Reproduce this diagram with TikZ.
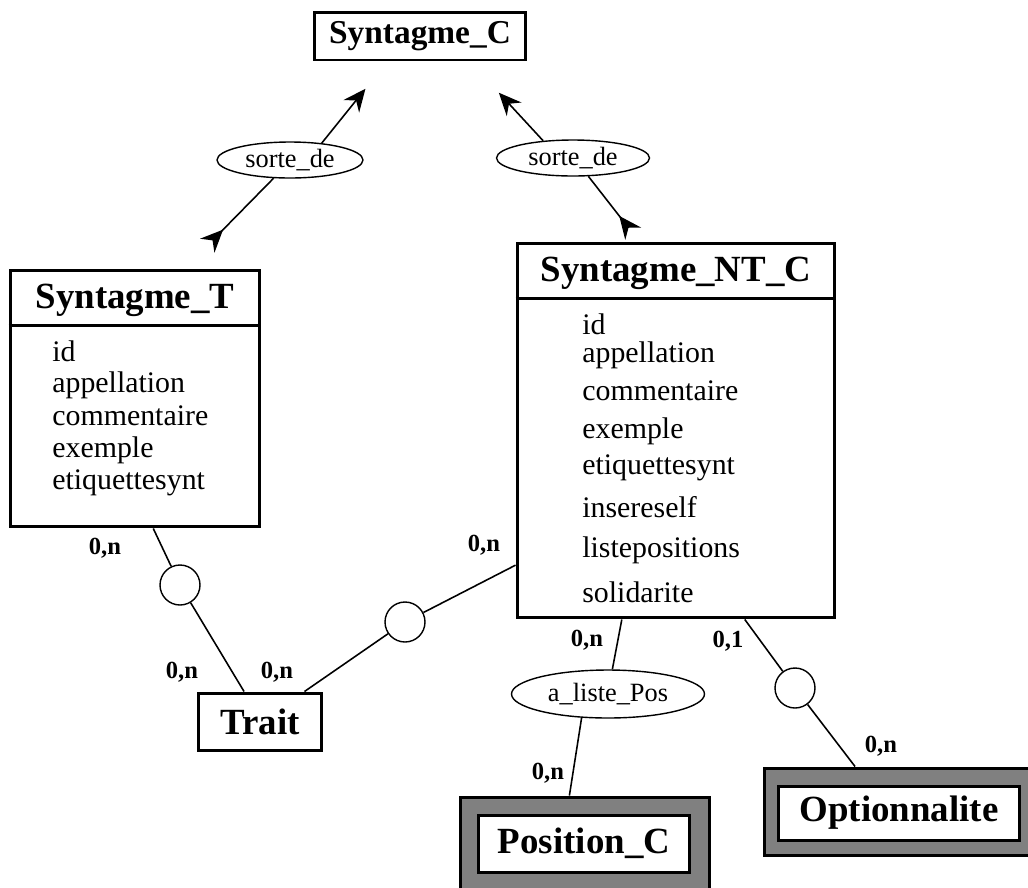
\documentclass[tikz,border=0pt]{standalone}
\usepackage{fontspec}
\setmainfont{Liberation Serif}
\usetikzlibrary{arrows.meta,shapes.geometric}

\begin{document}
\begin{tikzpicture}[
  x=0.02cm, y=-0.02cm,
  entity/.style={draw, line width=1.7pt, fill=white, inner sep=0pt, font=\bfseries\fontsize{21}{24}\selectfont},
  classbox/.style={draw, line width=1.7pt, inner sep=0pt},
  classname/.style={inner sep=0pt, font=\bfseries\fontsize{21}{24}\selectfont},
  attr/.style={anchor=west, inner sep=0pt, text height=12pt, text depth=4pt, font=\fontsize{17}{20}\selectfont},
  assoc/.style={draw, ellipse, line width=0.8pt, inner sep=0pt, font=\fontsize{15}{17}\selectfont},
  ring/.style={draw, circle, line width=0.8pt, minimum size=0.8cm, inner sep=0pt},
  card/.style={inner sep=0pt, font=\bfseries\fontsize{14}{16}\selectfont},
  weak/.style={draw, line width=1.7pt, fill=black!50, inner sep=0pt},
  link/.style={line width=0.9pt},
  isa/.style={line width=0.9pt, -{Stealth[length=0.45cm, width=0.4cm, inset=0.15cm]}},
  isaback/.style={line width=0.9pt, {Stealth[reversed, length=0.45cm, width=0.4cm, inset=0.15cm]}-}
]
\useasboundingbox (0,0) rectangle (1028,887);

% parent class
\node[entity, minimum width=4.24cm, minimum height=0.96cm, font=\bfseries\fontsize{19}{22}\selectfont] (synC) at (420,36) {Syntagme\_C};

% sub-classes
\node[classbox, minimum width=5cm, minimum height=5.14cm] (synT) at (135,398.5) {};
\node[classname] (synTname) at (135,300) {Syntagme\_T};
\draw[line width=1.7pt] ([yshift=-1.14cm]synT.north west) -- ([yshift=-1.14cm]synT.north east);
\foreach \y/\t [count=\i] in {354/id, 385/appellation, 418/commentaire, 450/exemple, 482/etiquettesynt}
  \node[attr] (synTa\i) at (52,\y) {\t};

\node[classbox, minimum width=6.36cm, minimum height=7.5cm] (synNT) at (676,430.5) {};
\node[classname] (synNTname) at (676,273) {Syntagme\_NT\_C};
\draw[line width=1.7pt] ([yshift=-1.14cm]synNT.north west) -- ([yshift=-1.14cm]synNT.north east);
\foreach \y/\t [count=\i] in {327/id, 355/appellation, 393/commentaire, 431/exemple, 467/etiquettesynt, 510/insereself, 550/listepositions, 595/solidarite}
  \node[attr] (synNTa\i) at (582,\y) {\t};

% other entities
\node[entity, minimum width=2.48cm, minimum height=1.14cm] (trait) at (260,721.5) {Trait};

\node[weak, minimum width=5cm, minimum height=1.86cm] (posC) at (585,843.5) {};
\node[entity, minimum width=4.24cm, minimum height=1.14cm] (posCname) at (584,843.5) {Position\_C};

\node[weak, minimum width=5.32cm, minimum height=1.74cm] (optio) at (897,811.5) {};
\node[entity, minimum width=4.84cm, minimum height=1.08cm] (optioname) at (899,813) {Optionnalite};

% associations
\node[assoc, minimum width=2.92cm, minimum height=0.72cm] (sorteL) at (290,160) {sorte\_de};
\node[assoc, minimum width=3.06cm, minimum height=0.72cm] (sorteR) at (573,158) {sorte\_de};
\node[assoc, minimum width=3.86cm, minimum height=0.96cm] (aliste) at (608,694) {a\_liste\_Pos};

\node[ring] (ringT) at (180,585) {};
\node[ring] (ringNT) at (405,622) {};
\node[ring] (ringOpt) at (795,688) {};

% inheritance links
\draw[isa, shorten >=0.7cm] (sorteL.28) -- (synC.218);
\draw[isaback, shorten <=0.64cm] (synT.69) -- (sorteL.228);
\draw[isa, shorten >=0.85cm] (sorteR.150) -- (synC.333);
\draw[isaback, shorten <=0.2cm] (synNT.101) -- (sorteR.310);

% relations
\draw[link] (synT.278) -- (ringT) -- (trait.118);
\draw[link] (trait.34) -- (ringNT) -- (synNT.220);
\draw[link] (synNT.254) -- (aliste.80);
\draw[link] (aliste.222) -- (posC.108);
\draw[link] (synNT.290) -- (ringOpt) -- (optio.133);

% cardinalities
\node[card] (cT1) at (105,548) {0,n};
\node[card] (cT2) at (182,672) {0,n};
\node[card] (cT3) at (277,672) {0,n};
\node[card] (cT4) at (484,545) {0,n};
\node[card] (cP1) at (587,640) {0,n};
\node[card] (cP2) at (548,773) {0,n};
\node[card] (cO1) at (728,641) {0,1};
\node[card] (cO2) at (881,746) {0,n};
\end{tikzpicture}
\end{document}
